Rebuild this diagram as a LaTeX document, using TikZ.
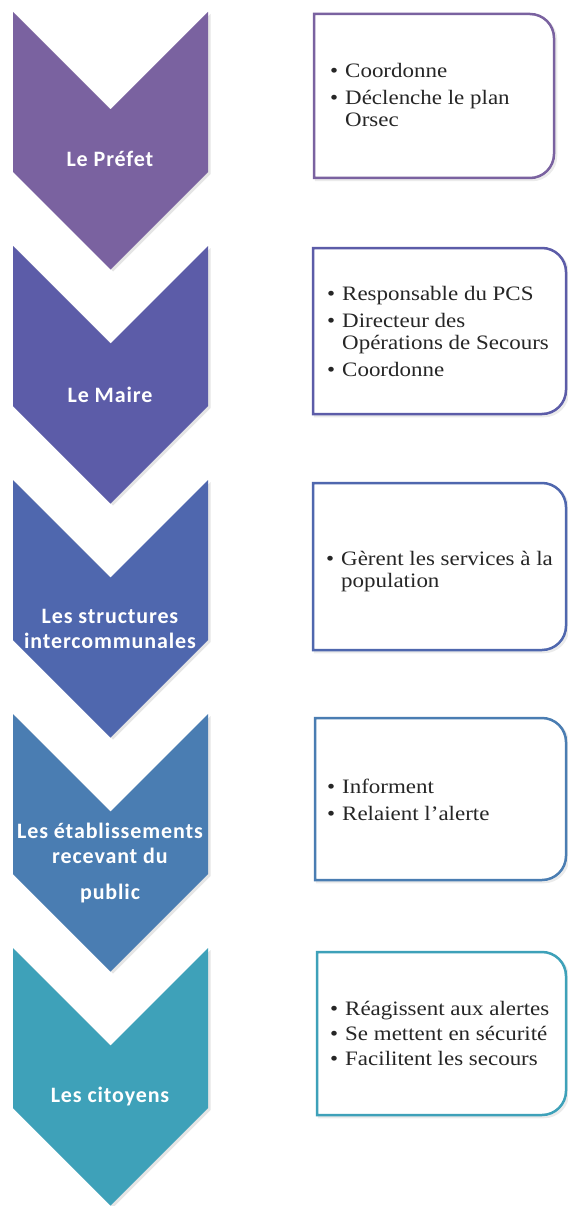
\documentclass[tikz,border=0pt]{standalone}
\usepackage{fontspec}
\setmainfont{Liberation Serif}[FakeStretch=1.12]
\newfontfamily\chevfont{Carlito}[LetterSpace=4]
\definecolor{cA}{HTML}{7A62A0}
\definecolor{cB}{HTML}{5C5CA8}
\definecolor{cC}{HTML}{4F67AE}
\definecolor{cD}{HTML}{4A7DB2}
\definecolor{cE}{HTML}{3EA1B9}
\newcommand\chevronshape[2]{%
  \fill[black,opacity=0.10] (15.5,#1+2) -- (113,#1+99.5) -- (210.5,#1+2) -- (210.5,#1+162) -- (113,#1+259.5) -- (15.5,#1+162) -- cycle;
  \fill[#2] (13,#1) -- (110.5,#1+97.5) -- (208,#1) -- (208,#1+160) -- (110.5,#1+257.5) -- (13,#1+160) -- cycle;}
\newcommand\infobox[5]{%
  \draw[black,opacity=0.08,line width=2.5] (#1+2,#2+2) -- (#3-22,#2+2) arc[start angle=-90,end angle=0,radius=24] -- (#3+2,#4-22) arc[start angle=0,end angle=90,radius=24] -- (#1+2,#4+2) -- cycle;
  \draw[#5,line width=2.5,fill=white] (#1,#2) -- (#3-24,#2) arc[start angle=-90,end angle=0,radius=24] -- (#3,#4-24) arc[start angle=0,end angle=90,radius=24] -- (#1,#4) -- cycle;}
\tikzset{
  chevtext/.style={text=white,inner sep=0pt,anchor=base,font=\chevfont\bfseries\fontsize{22}{25}\selectfont},
  boxtext/.style={text=black!85,inner sep=0pt,anchor=base west,font=\fontsize{20.5}{22}\selectfont}
}
\begin{document}
\begin{tikzpicture}[x=1pt,y=-1pt]
\useasboundingbox (0,0) rectangle (567,1206);
\fill[white] (0,0) rectangle (567,1206);
% chevrons
\chevronshape{12}{cA}
\chevronshape{246}{cB}
\chevronshape{480}{cC}
\chevronshape{714}{cD}
\chevronshape{948}{cE}
\node[chevtext] (lab1) at (110,167) {Le Préfet};
\node[chevtext] (lab2) at (110,402) {Le Maire};
\node[chevtext] (lab3) at (110,623) {\begin{tabular}[t]{@{}c@{}}Les structures\\intercommunales\end{tabular}};
\node[chevtext] (lab4) at (110,838) {\begin{tabular}[t]{@{}c@{}}Les établissements\\recevant du\\[11pt]public\end{tabular}};
\node[chevtext] (lab5) at (110,1102) {Les citoyens};
% boxes
\infobox{314}{14}{554}{178}{cA}
\infobox{313}{248}{566}{414}{cB}
\infobox{313}{483}{566}{650}{cC}
\infobox{315}{718}{566}{880}{cD}
\infobox{317}{952}{566}{1115}{cE}
\node[boxtext] (txt1) at (330,78) {\begin{tabular}[t]{@{}l@{\hspace{7pt}}l@{}}\textbullet & Coordonne\\[5pt]\textbullet & Déclenche le plan\\ & Orsec\end{tabular}};
\node[boxtext] (txt2) at (327,300) {\begin{tabular}[t]{@{}l@{\hspace{7pt}}l@{}}\textbullet & Responsable du PCS\\[5pt]\textbullet & Directeur des\\ & Opérations de Secours\\[5pt]\textbullet & Coordonne\end{tabular}};
\node[boxtext] (txt3) at (326,565) {\begin{tabular}[t]{@{}l@{\hspace{7pt}}l@{}}\textbullet & Gèrent les services à la\\ & population\end{tabular}};
\node[boxtext] (txt4) at (327,793) {\begin{tabular}[t]{@{}l@{\hspace{7pt}}l@{}}\textbullet & Informent\\[5pt]\textbullet & Relaient l'alerte\end{tabular}};
\node[boxtext] (txt5) at (330,1015) {\begin{tabular}[t]{@{}l@{\hspace{7pt}}l@{}}\textbullet & Réagissent aux alertes\\[3pt]\textbullet & Se mettent en sécurité\\[3pt]\textbullet & Facilitent les secours\end{tabular}};
\end{tikzpicture}
\end{document}
